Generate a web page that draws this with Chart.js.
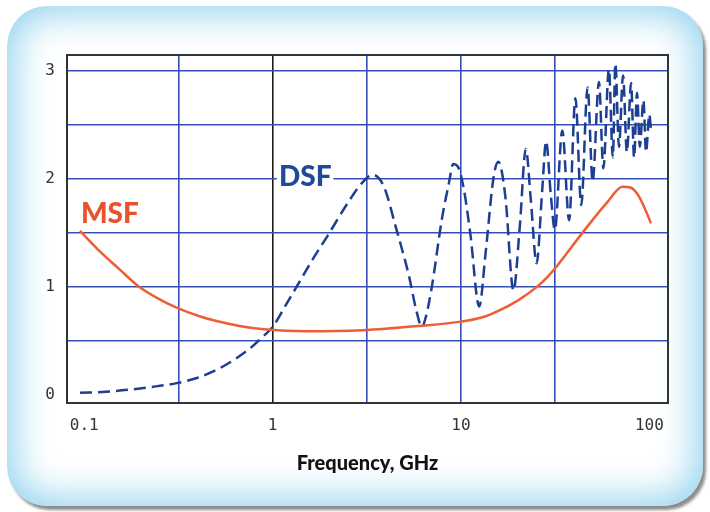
<!DOCTYPE html>
<html>
<head>
<meta charset="utf-8">
<script src="https://cdn.jsdelivr.net/npm/chart.js@4.4.1/dist/chart.umd.min.js"></script>
<style>
    html, body { margin: 0; padding: 0; background: #fff; }
    #wrap { position: relative; width: 710px; height: 512px; overflow: hidden; }
    #card {
        position: absolute; left: 7px; top: 6px; width: 696px; height: 500px;
        border-radius: 40px; background: #fff;
        box-shadow: inset 0 0 38px 7px rgba(145, 210, 238, 1), 3px 4px 3px rgba(0, 0, 0, 0.45);
    }
    #chart { position: absolute; left: 0; top: 0; }
</style>
</head>
<body>
<div id="wrap">
    <div id="card"></div>
    <canvas id="chart" width="710" height="512"></canvas>
</div>
<script>
// MSF curve, frequency in GHz
const msfFreq = [0.095, 0.121, 0.155, 0.19, 0.243, 0.309, 0.409, 0.504, 0.667, 0.926, 1.5, 3, 6, 10, 13, 15.8, 20, 24.8, 29, 32.5, 44, 60, 72, 80, 88, 95, 102];
const msfValue = [1.52, 1.33, 1.16, 1.02, 0.90, 0.81, 0.73, 0.685, 0.64, 0.606, 0.59, 0.60, 0.64, 0.68, 0.72, 0.78, 0.875, 0.99, 1.1, 1.2, 1.5, 1.79, 1.93, 1.92, 1.84, 1.72, 1.59];

// DSF curve
const dsfFreq = [0.095, 0.13, 0.175, 0.24, 0.31, 0.4, 0.5, 0.63, 0.78, 0.9, 1.0, 1.2, 1.38, 1.65, 1.95, 2.55, 3.0, 3.4, 3.9, 4.5, 5.3, 5.8, 6.2, 6.5, 7.0, 7.9, 8.6, 9.1, 9.6, 10.3, 11.2, 12.5, 13.5, 14.9, 15.8, 17.2, 19.0, 20.5, 22.1, 23.5, 25.2, 27, 28.3, 30, 31.5, 34.5, 37.5, 40.5, 43.5, 47, 50, 54, 57, 61, 64, 66, 69, 72.5, 76, 80, 83, 86, 89, 93, 96, 100, 102];
const dsfValue = [0.02, 0.03, 0.05, 0.08, 0.11, 0.16, 0.23, 0.33, 0.45, 0.55, 0.63, 0.86, 1.04, 1.27, 1.47, 1.8, 1.97, 2.04, 1.93, 1.56, 1.1, 0.78, 0.63, 0.72, 1.0, 1.62, 1.95, 2.14, 2.12, 1.93, 1.5, 0.82, 1.31, 2.02, 2.16, 1.84, 0.97, 1.55, 2.28, 1.8, 1.22, 1.9, 2.35, 1.85, 1.53, 2.45, 1.62, 2.75, 1.76, 2.85, 1.98, 2.9, 2.1, 3.02, 2.2, 3.07, 2.3, 2.96, 2.25, 2.89, 2.2, 2.8, 2.3, 2.73, 2.25, 2.6, 2.45];

const xTickValues = [0.1, 0.316, 1, 3.16, 10, 31.6, 100];
const xTickLabels = ['0.1', '', '1', '', '10', '', '100'];
const yTickValues = [0, 0.5, 1, 1.5, 2, 2.5, 3];
const yTickLabels = ['0', '', '1', '', '2', '', '3'];

const seriesLabels = [
    { text: 'MSF', x: 0.096, y: 1.68, color: '#e8522f' },
    { text: 'DSF', x: 1.08, y: 2.02, color: '#1f4a9a' }
];

function toPoints(xs, ys) {
    return xs.map((x, i) => ({ x: x, y: ys[i] }));
}

const gridBlue = '#3450b6';

// draws the MSF / DSF names inside the plot, on a white patch
const seriesLabelPlugin = {
    id: 'seriesLabels',
    afterDatasetsDraw(chart) {
        const ctx = chart.ctx;
        const xs = chart.scales.x, ys = chart.scales.y;
        ctx.save();
        ctx.font = '900 28px Lato, "DejaVu Sans", sans-serif';
        ctx.textBaseline = 'middle';
        ctx.textAlign = 'left';
        seriesLabels.forEach(l => {
            const px = xs.getPixelForValue(l.x);
            const py = ys.getPixelForValue(l.y);
            const w = ctx.measureText(l.text).width;
            ctx.fillStyle = '#fff';
            ctx.fillRect(px - 2, py - 12, w + 4, 24);
            ctx.fillStyle = l.color;
            ctx.fillText(l.text, px, py);
        });
        ctx.restore();
    }
};

new Chart(document.getElementById('chart'), {
    type: 'line',
    data: {
        datasets: [
            {
                label: 'MSF',
                data: toPoints(msfFreq, msfValue),
                borderColor: '#ef5d37',
                borderWidth: 2.5,
                pointRadius: 0,
                cubicInterpolationMode: 'monotone'
            },
            {
                label: 'DSF',
                data: toPoints(dsfFreq, dsfValue),
                borderColor: '#1d3f92',
                borderWidth: 2.5,
                borderDash: [12, 6],
                pointRadius: 0,
                cubicInterpolationMode: 'monotone'
            }
        ]
    },
    options: {
        responsive: false,
        animation: false,
        layout: { padding: { left: 0, right: 42, top: 55, bottom: 0 } },
        plugins: {
            legend: { display: false },
            tooltip: { enabled: false }
        },
        scales: {
            x: {
                type: 'logarithmic',
                min: 0.081,
                max: 125.6,
                afterBuildTicks: scale => { scale.ticks = xTickValues.map(v => ({ value: v })); },
                afterFit: scale => { scale.height = 109; },
                ticks: {
                    autoSkip: false,
                    maxRotation: 0,
                    padding: 13,
                    color: '#333',
                    font: { family: '"DejaVu Sans Mono", monospace', size: 16 },
                    callback: (v, i) => xTickLabels[i]
                },
                grid: {
                    drawTicks: false,
                    lineWidth: 1.6,
                    color: c => {
                        const v = c.tick ? c.tick.value : null;
                        if (v === 1) return '#1a1a1a';
                        if (v === 0.1 || v === 100) return 'rgba(0,0,0,0)';
                        return gridBlue;
                    }
                },
                border: { color: '#333', width: 2 },
                title: {
                    display: true,
                    text: 'Frequency, GHz',
                    color: '#111',
                    font: { family: 'Lato, "DejaVu Sans", sans-serif', size: 20, weight: '900' },
                    padding: { top: 0, bottom: 36 }
                }
            },
            y: {
                min: -0.074,
                max: 3.15,
                afterBuildTicks: scale => { scale.ticks = yTickValues.map(v => ({ value: v })); },
                afterFit: scale => { scale.width = 67; },
                ticks: {
                    autoSkip: false,
                    padding: 12,
                    color: '#333',
                    font: { family: '"DejaVu Sans Mono", monospace', size: 16 },
                    callback: (v, i) => yTickLabels[i]
                },
                grid: {
                    drawTicks: false,
                    lineWidth: 1.6,
                    color: c => (c.tick && c.tick.value === 0) ? 'rgba(0,0,0,0)' : gridBlue
                },
                border: { color: '#333', width: 2 }
            }
        }
    },
    plugins: [seriesLabelPlugin, {
        id: 'frame',
        afterDraw(chart) {
            // right and top frame lines of the plot box
            const a = chart.chartArea, ctx = chart.ctx;
            ctx.save();
            ctx.strokeStyle = '#333';
            ctx.lineWidth = 2;
            ctx.strokeRect(a.left, a.top, a.right - a.left, a.bottom - a.top);
            ctx.restore();
        }
    }]
});
</script>
</body>
</html>
